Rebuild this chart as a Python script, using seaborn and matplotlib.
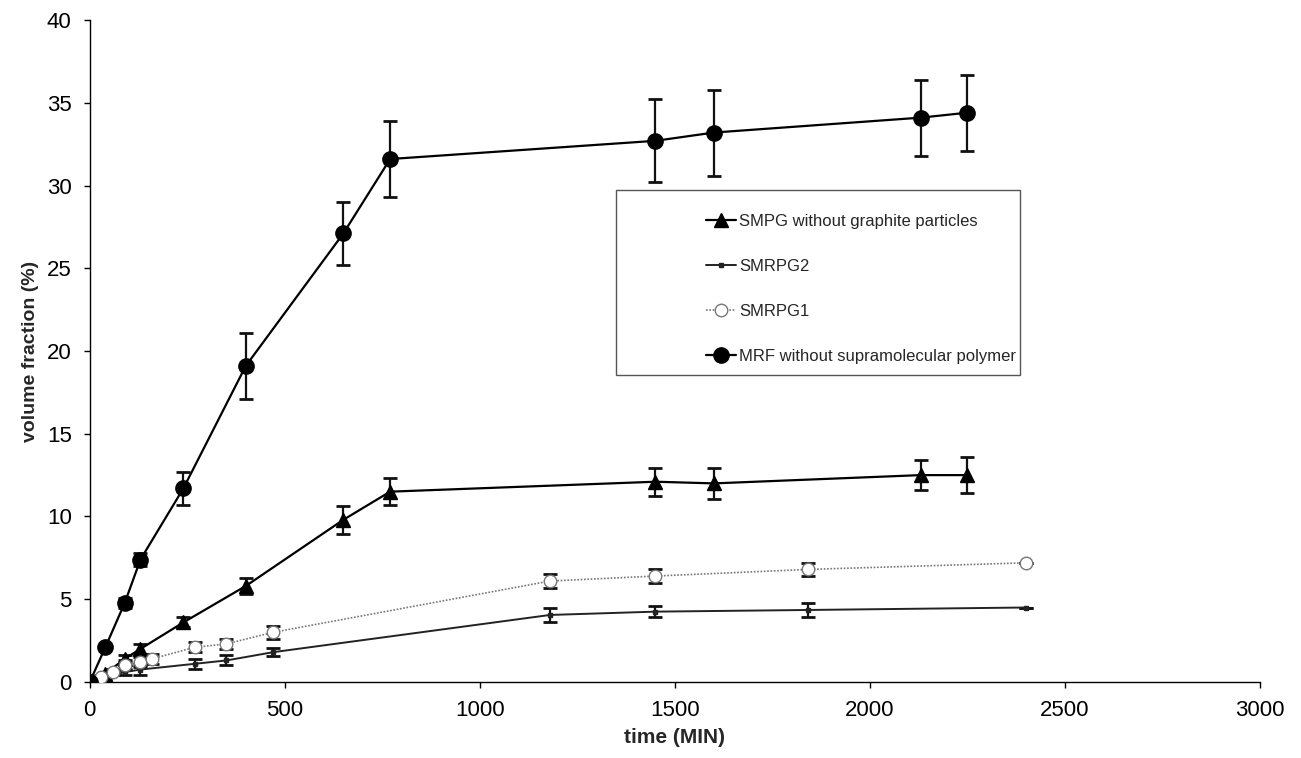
"""Volume fraction vs time for four fluids, with error bars."""
import matplotlib
matplotlib.use("Agg")
import matplotlib.pyplot as plt
from matplotlib.patches import Rectangle
import seaborn as sns

# --- data ---
smpg_t = [0, 40, 90, 130, 240, 400, 650, 770, 1450, 1600, 2130, 2250]
smpg_v = [0, 0.5, 1.4, 2.0, 3.6, 5.8, 9.8, 11.5, 12.1, 12.0, 12.5, 12.5]
smpg_e = [0, 0.1, 0.2, 0.3, 0.3, 0.5, 0.85, 0.8, 0.85, 0.95, 0.9, 1.1]

smrpg2_t = [0, 40, 90, 130, 270, 350, 470, 1180, 1450, 1840, 2400]
smrpg2_v = [0, 0.3, 0.6, 0.75, 1.1, 1.3, 1.8, 4.05, 4.25, 4.35, 4.5]
smrpg2_e = [0, 0.1, 0.2, 0.3, 0.3, 0.3, 0.25, 0.45, 0.35, 0.4, 0]

smrpg1_t = [0, 30, 60, 90, 130, 160, 270, 350, 470, 1180, 1450, 1840, 2400]
smrpg1_v = [0, 0.3, 0.6, 1.0, 1.2, 1.4, 2.1, 2.3, 3.0, 6.1, 6.4, 6.8, 7.2]
smrpg1_e = [0, 0.1, 0.2, 0.3, 0.3, 0.3, 0.3, 0.3, 0.4, 0.4, 0.4, 0.4, 0]

mrf_t = [0, 40, 90, 130, 240, 400, 650, 770, 1450, 1600, 2130, 2250]
mrf_v = [0, 2.1, 4.8, 7.4, 11.7, 19.1, 27.1, 31.6, 32.7, 33.2, 34.1, 34.4]
mrf_e = [0, 0.1, 0.3, 0.4, 1.0, 2.0, 1.9, 2.3, 2.5, 2.6, 2.3, 2.3]

x_ticks = [0, 500, 1000, 1500, 2000, 2500, 3000]
y_ticks = [0, 5, 10, 15, 20, 25, 30, 35, 40]

sns.set_theme(style="ticks")
plt.rcParams["font.family"] = ["Liberation Sans", "DejaVu Sans"]

fig = plt.figure(figsize=(13.01, 7.58), dpi=100)
ax = fig.add_axes([0.069, 0.1003, 0.8995, 0.8733])

series = [
    ("SMPG without graphite particles", smpg_t, smpg_v, smpg_e,
     dict(color="black", lw=1.6, ls="-", marker="^", ms=10, mfc="black", mec="black")),
    ("SMRPG2", smrpg2_t, smrpg2_v, smrpg2_e,
     dict(color="#222222", lw=1.4, ls="-", marker="s", ms=3, mfc="#222222", mec="#222222")),
    ("SMRPG1", smrpg1_t, smrpg1_v, smrpg1_e,
     dict(color="#777777", lw=1.2, ls=(0, (1, 1)), marker="o", ms=9, mfc="white", mec="#777777")),
    ("MRF without supramolecular polymer", mrf_t, mrf_v, mrf_e,
     dict(color="black", lw=1.6, ls="-", marker="o", ms=11, mfc="black", mec="black")),
]

for label, t, v, e, st in series:
    ax.errorbar(t, v, yerr=e, fmt="none", ecolor="#111111", elinewidth=1.6,
                capsize=5, capthick=2, zorder=2)
    sns.lineplot(x=t, y=v, ax=ax, label=label, color=st["color"], linewidth=st["lw"],
                 linestyle=st["ls"], marker=st["marker"], markersize=st["ms"],
                 markerfacecolor=st["mfc"], markeredgecolor=st["mec"],
                 markeredgewidth=1.0, sort=False, zorder=3)

ax.set_xlim(0, 3000)
ax.set_ylim(0, 40)
ax.set_xticks(x_ticks)
ax.set_yticks(y_ticks)
ax.tick_params(direction="out", length=4, width=1, labelsize=16, colors="black")
ax.tick_params(axis="x", pad=9)
ax.tick_params(axis="y", pad=9)
for side in ["top", "right"]:
    ax.spines[side].set_visible(False)
for side in ["left", "bottom"]:
    ax.spines[side].set_color("black")
    ax.spines[side].set_linewidth(1)

ax.set_xlabel("time (MIN)", fontsize=15, fontweight="bold", labelpad=5)
ax.set_ylabel("volume fraction (%)", fontsize=14, fontweight="bold", labelpad=6)

# legend frame drawn separately, entries placed inside it
ax.add_patch(Rectangle((0.45, 0.464), 0.345, 0.279, transform=ax.transAxes,
                       fill=True, facecolor="white", edgecolor="#555555", lw=1, zorder=4))
leg = ax.legend(loc="upper left", bbox_to_anchor=(0.522, 0.714), frameon=False,
                fontsize=12, labelspacing=1.8, handlelength=1.8, handletextpad=0.2,
                borderpad=0.3, borderaxespad=0)
leg.set_zorder(5)

fig.savefig("out.png", dpi=100)
